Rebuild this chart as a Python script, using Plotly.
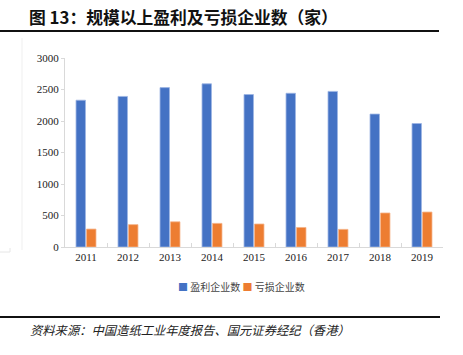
import plotly.graph_objects as go

years = ["2011", "2012", "2013", "2014", "2015", "2016", "2017", "2018", "2019"]
profit = [2330, 2390, 2530, 2590, 2420, 2440, 2470, 2110, 1960]
loss = [285, 355, 400, 375, 365, 310, 280, 540, 555]
series_names = ["盈利企业数", "亏损企业数"]
y_ticks = [0, 500, 1000, 1500, 2000, 2500, 3000]

BLUE = "#4472C4"
ORANGE = "#ED7D31"

W, H = 463, 355
L, R, T, B = 65, 20, 58, 108
PW = W - L - R
PH = H - T - B


def px(x):
    return (x - L) / PW


def py(y):
    return (H - B - y) / PH


fig = go.Figure()
fig.add_trace(go.Bar(x=years, y=profit, name=series_names[0],
                     marker=dict(color=BLUE, line=dict(color="#9DB5E3", width=0.8)),
                     showlegend=False))
fig.add_trace(go.Bar(x=years, y=loss, name=series_names[1],
                     marker=dict(color=ORANGE, line=dict(color="#F5B48A", width=0.8)),
                     showlegend=False))

serif = "Liberation Serif, Times New Roman, serif"
cjk = "Noto Sans CJK SC, sans-serif"

fig.update_layout(
    width=W, height=H,
    margin=dict(l=L, r=R, t=T, b=B),
    paper_bgcolor="white", plot_bgcolor="white",
    barmode="group", bargap=0.5, bargroupgap=0.1,
    showlegend=False,
    xaxis=dict(type="category", showline=True, linecolor="#d9d9d9", linewidth=1,
               ticks="inside", ticklen=4, tickcolor="#d9d9d9", tickson="boundaries",
               showgrid=False, tickfont=dict(family=serif, size=11, color="#222")),
    yaxis=dict(range=[0, 3000], tickvals=y_ticks, showline=True, linecolor="#d9d9d9",
               linewidth=1, ticks="outside", ticklen=3, tickcolor="#d9d9d9",
               showgrid=False, zeroline=False,
               tickfont=dict(family=serif, size=11, color="#222")),
)

annotations = [
    dict(text="<b>图 13：规模以上盈利及亏损企业数（家）</b>", x=px(27), y=py(17),
         xref="paper", yref="paper", xanchor="left", yanchor="middle", showarrow=False,
         font=dict(family=cjk, size=16.8, color="#111")),
    dict(text="<i>资料来源：中国造纸工业年度报告、国元证券经纪（香港）</i>", x=px(28), y=py(330),
         xref="paper", yref="paper", xanchor="left", yanchor="middle", showarrow=False,
         font=dict(family=cjk, size=12.3, color="#222")),
    dict(text=f"<span style='color:{BLUE}'>■</span> {series_names[0]} "
              f"<span style='color:{ORANGE}'>■</span> {series_names[1]}",
         x=px(241), y=py(286), xref="paper", yref="paper", xanchor="center",
         yanchor="middle", showarrow=False,
         font=dict(family=cjk, size=10, color="#444")),
]
fig.update_layout(annotations=annotations)

shapes = [
    dict(type="line", xref="paper", yref="paper", x0=px(0), x1=px(439), y0=py(31), y1=py(31),
         line=dict(color="#111", width=2)),
    dict(type="line", xref="paper", yref="paper", x0=px(0), x1=px(440), y0=py(317), y1=py(317),
         line=dict(color="#111", width=2)),
    dict(type="line", xref="paper", yref="paper", x0=px(22), x1=px(22), y0=py(38), y1=py(250),
         line=dict(color="#efefef", width=1)),
    dict(type="line", xref="paper", yref="paper", x0=px(0), x1=px(10), y0=py(252), y1=py(252),
         line=dict(color="#e6e6e6", width=1)),
    dict(type="line", xref="paper", yref="paper", x0=px(10), x1=px(10), y0=py(248), y1=py(252),
         line=dict(color="#e6e6e6", width=1)),
]
fig.update_layout(shapes=shapes)

fig.write_html("out.html", config={"displayModeBar": False},
               post_script="document.body.style.margin='0';document.body.style.overflow='hidden';")
